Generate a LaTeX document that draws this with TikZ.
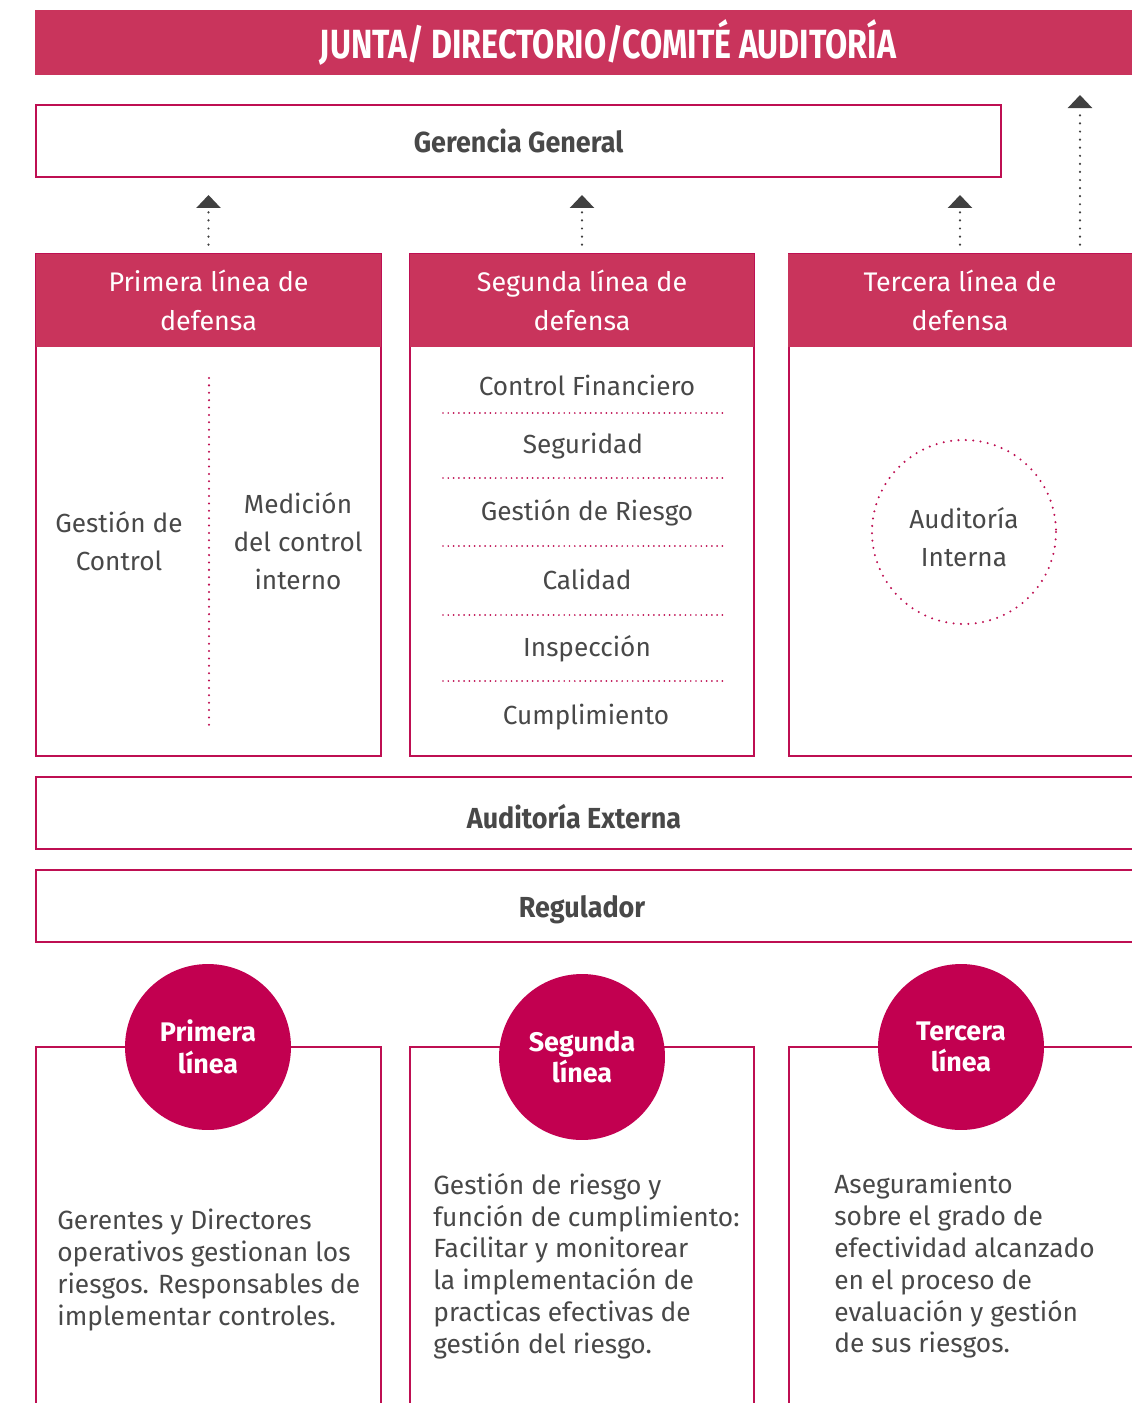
\documentclass[tikz,border=0pt]{standalone}
\usepackage{fontspec}
\setmainfont{Fira Sans}
\newfontfamily\titlefont[FakeStretch=0.79]{Fira Sans}
\newfontfamily\boxfont[FakeStretch=0.93]{Fira Sans}
\usetikzlibrary{arrows.meta}
\definecolor{bannerred}{RGB}{201,52,92}
\definecolor{framered}{RGB}{190,15,82}
\definecolor{discred}{RGB}{194,0,80}
\definecolor{textgray}{RGB}{72,72,72}
\definecolor{arrowgray}{RGB}{64,64,64}
\tikzset{
  frame/.style={draw=framered, line width=1pt},
  hdrbox/.style={fill=bannerred, text=white, inner sep=0pt,
    minimum width=6.9cm, minimum height=1.86cm, align=center,
    font=\fontsize{15.3}{22}\selectfont},
  boxlabel/.style={text=textgray, font=\boxfont\bfseries\fontsize{16.5}{20}\selectfont},
  midtext/.style={text=textgray, align=center, font=\fontsize{14.9}{21.5}\selectfont},
  disc/.style={circle, fill=discred, text=white, minimum size=3.32cm, inner sep=0pt,
    align=center, font=\bfseries\fontsize{15.3}{18}\selectfont},
  desc/.style={text=textgray, align=left, anchor=west, inner sep=0pt,
    font=\fontsize{15}{18.1}\selectfont},
  dotline/.style={draw=framered, line width=1.3pt, line cap=round,
    dash pattern=on 0pt off 4.2pt},
  uparrow/.style={draw=arrowgray, line width=1.4pt, line cap=round,
    dash pattern=on 0pt off 4.6pt, -{Triangle[width=0.48cm, length=0.26cm]},
    shorten <=0.18cm, shorten >=0.36cm},
}
\begin{document}
\begin{tikzpicture}[x=0.02cm, y=-0.02cm]
  \clip (0,0) rectangle (1132,1403);
  % banner
  \fill[bannerred] (35,10) rectangle (1180,75);
  \node[text=white, font=\titlefont\bfseries\fontsize{23.2}{26}\selectfont] (junta) at (608,42) {JUNTA/ DIRECTORIO/COMITÉ AUDITORÍA};
  % gerencia
  \draw[frame] (36,105) rectangle (1001,177);
  \node[boxlabel] (ggtext) at (518.5,141) {Gerencia General};
  \coordinate (ggbot) at (518.5,177);
  \coordinate (tip4) at (1080,95);
  % three lines of defence
  \draw[frame] (36,254) rectangle (381,756);
  \draw[frame] (410,254) rectangle (754,756);
  \draw[frame] (789,254) rectangle (1140,756);
  \node[hdrbox] (hdr1) at (208.5,300.5) {Primera línea de\\defensa};
  \node[hdrbox] (hdr2) at (582,300.5) {Segunda línea de\\defensa};
  \node[hdrbox] (hdr3) at (960,300.5) {Tercera línea de\\defensa};
  \draw[uparrow] (hdr1.north) -- (hdr1.north |- ggbot);
  \draw[uparrow] (hdr2.north) -- (hdr2.north |- ggbot);
  \draw[uparrow] (hdr3.north) -- (hdr3.north |- ggbot);
  \draw[uparrow, shorten >=0pt] (hdr3.north -| tip4) -- (tip4);
  % first line
  \node[midtext] (gestion) at (119,541) {Gestión de\\Control};
  \node[midtext] (medicion) at (298,541) {Medición\\del control\\interno};
  \draw[dotline] (209,378) -- (209,727);
  % second line
  \node[midtext] (item1) at (587,385) {Control Financiero};
  \node[midtext] (item2) at (583,446) {Seguridad};
  \node[midtext] (item3) at (587,513) {Gestión de Riesgo};
  \node[midtext] (item4) at (587,579) {Calidad};
  \node[midtext] (item5) at (587,649) {Inspección};
  \node[midtext] (item6) at (586,717) {Cumplimiento};
  \foreach \y in {413,478,546,615,681}
    \draw[dotline, line width=1.1pt, dash pattern=on 0pt off 3pt] (443,\y) -- (723,\y);
  % third line
  \draw[dotline] (964,532) circle (92);
  \node[midtext] (audint) at (964,537) {Auditoría\\Interna};
  % external
  \draw[frame] (36,777) rectangle (1140,849);
  \node[boxlabel] (audext) at (574,817) {Auditoría Externa};
  \draw[frame] (36,870) rectangle (1140,942);
  \node[boxlabel] (regul) at (582,910) {Regulador};
  % roles
  \draw[frame] (36,1420) -- (36,1047) -- (381,1047) -- (381,1420);
  \draw[frame] (410,1420) -- (410,1047) -- (754,1047) -- (754,1420);
  \draw[frame] (789,1420) -- (789,1047) -- (1140,1047);
  \node[disc] (disc1) at (208,1047) {Primera\\línea};
  \node[disc] (disc2) at (582,1057) {Segunda\\línea};
  \node[disc] (disc3) at (961,1047) {Tercera\\línea};
  \node[desc] (role1) at (57,1270) {Gerentes y Directores\\operativos gestionan los\\riesgos. Responsables de\\implementar controles.};
  \node[desc] (role2) at (433,1266) {Gestión de riesgo y\\función de cumplimiento:\\Facilitar y monitorear\\la implementación de\\practicas efectivas de\\gestión del riesgo.};
  \node[desc] (role3) at (834,1266) {Aseguramiento\\sobre el grado de\\efectividad alcanzado\\en el proceso de\\evaluación y gestión\\de sus riesgos.};
\end{tikzpicture}
\end{document}
